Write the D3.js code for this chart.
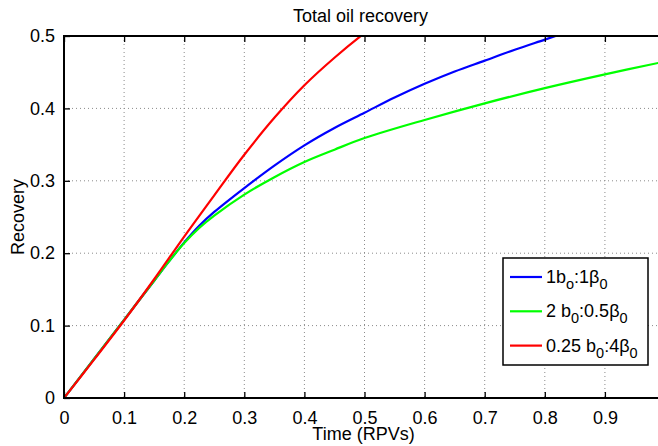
<!DOCTYPE html>
<html>
<head>
<meta charset="utf-8">
<script src="https://d3js.org/d3.v7.min.js"></script>
<style>
  body { margin: 0; background: #fff; }
  svg { display: block; font-family: "Liberation Sans", Arial, sans-serif; }
</style>
</head>
<body>
<svg width="658" height="446"></svg>
<script>
// values
const timeBlue  = [0, 0.05, 0.1, 0.15, 0.175, 0.2, 0.225, 0.25, 0.3, 0.35, 0.4, 0.45, 0.5, 0.55, 0.6, 0.65, 0.7, 0.75, 0.8, 0.85];
const recBlue   = [0, 0.054, 0.108, 0.162, 0.189, 0.215, 0.238, 0.257, 0.290, 0.321, 0.349, 0.373, 0.394, 0.415, 0.434, 0.451, 0.466, 0.481, 0.495, 0.509];
const timeGreen = [0, 0.05, 0.1, 0.15, 0.175, 0.2, 0.225, 0.25, 0.3, 0.35, 0.4, 0.45, 0.5, 0.6, 0.7, 0.8, 0.9, 0.99];
const recGreen  = [0, 0.054, 0.108, 0.162, 0.189, 0.214, 0.235, 0.252, 0.281, 0.305, 0.326, 0.343, 0.359, 0.384, 0.407, 0.428, 0.447, 0.463];
const timeRed   = [0, 0.05, 0.1, 0.15, 0.2, 0.25, 0.3, 0.35, 0.4, 0.45, 0.5, 0.52];
const recRed    = [0, 0.053, 0.107, 0.164, 0.223, 0.280, 0.336, 0.387, 0.432, 0.470, 0.504, 0.516];

const xTicks = [0, 0.1, 0.2, 0.3, 0.4, 0.5, 0.6, 0.7, 0.8, 0.9];
const yTicks = [0, 0.1, 0.2, 0.3, 0.4, 0.5];

const series = [
  { color: '#0000ff', t: timeBlue,  r: recBlue },
  { color: '#00ff00', t: timeGreen, r: recGreen },
  { color: '#ff0000', t: timeRed,   r: recRed }
];
const legendLabels = [
  [['1b', 0], ['o', 1], [':1β', 0], ['0', 1]],
  [['2 b', 0], ['0', 1], [':0.5β', 0], ['0', 1]],
  [['0.25 b', 0], ['0', 1], [':4β', 0], ['0', 1]]
];

let svg = d3.select('svg');
let margin = { top: 36, left: 64, right: -1, bottom: 48 };
let width = 658, height = 446;
let innerWidth = width - margin.left - margin.right;
let innerHeight = height - margin.top - margin.bottom;

let xScale = d3.scaleLinear().domain([0, 0.99]).range([0, innerWidth]);
let yScale = d3.scaleLinear().domain([0, 0.5]).range([innerHeight, 0]);

let g = svg.append('g').attr('transform', `translate(${margin.left},${margin.top})`);

svg.append('defs').append('clipPath').attr('id', 'clip')
   .append('rect').attr('width', innerWidth).attr('height', innerHeight);

// grid
let grid = g.append('g');
grid.selectAll('.vgrid').data(xTicks.slice(1)).join('line')
    .attr('x1', d => xScale(d)).attr('x2', d => xScale(d))
    .attr('y1', 0).attr('y2', innerHeight)
    .style('stroke', '#8a8a8a').style('stroke-dasharray', '1,3');
grid.selectAll('.hgrid').data(yTicks.slice(1, -1)).join('line')
    .attr('x1', 0).attr('x2', innerWidth)
    .attr('y1', d => yScale(d)).attr('y2', d => yScale(d))
    .style('stroke', '#8a8a8a').style('stroke-dasharray', '1,3');

// curves
let line = d3.line().curve(d3.curveCatmullRom.alpha(0.5));
g.append('g').attr('clip-path', 'url(#clip)')
  .selectAll('path').data(series).join('path')
  .attr('d', s => line(s.t.map((t, i) => [xScale(t), yScale(s.r[i])])))
  .style('fill', 'none').style('stroke', s => s.color).style('stroke-width', 2.2);

// axes
function styleAxis(sel) {
  sel.select('.domain').remove();
  sel.selectAll('line').style('stroke', '#000').style('stroke-width', 1.3);
  sel.selectAll('text').style('font-size', '18px').style('fill', '#000');
}
g.append('g').attr('transform', `translate(0,${innerHeight})`)
  .call(d3.axisBottom(xScale).tickValues(xTicks).tickSize(-6).tickPadding(13).tickFormat(d3.format('')))
  .call(styleAxis);
let topAxis = g.append('g')
  .call(d3.axisTop(xScale).tickValues(xTicks).tickSize(-6).tickFormat(''))
  .call(styleAxis);
topAxis.selectAll('text').remove();
g.append('g')
  .call(d3.axisLeft(yScale).tickValues(yTicks).tickSize(-6).tickPadding(9).tickFormat(d3.format('')))
  .call(styleAxis);

g.append('rect').attr('width', innerWidth).attr('height', innerHeight)
  .style('fill', 'none').style('stroke', '#000').style('stroke-width', 2);

// titles
svg.append('text').attr('x', margin.left + innerWidth / 2 - 1).attr('y', 22)
   .attr('text-anchor', 'middle').style('font-size', '18px').text('Total oil recovery');
svg.append('text').attr('x', margin.left + innerWidth / 2 + 2).attr('y', 440)
   .attr('text-anchor', 'middle').style('font-size', '18px').text('Time (RPVs)');
svg.append('text').attr('transform', `translate(24,${margin.top + innerHeight / 2}) rotate(-90)`)
   .attr('text-anchor', 'middle').style('font-size', '18px').text('Recovery');

// legend
let legend = svg.append('g').attr('transform', 'translate(503,258)');
legend.append('rect').attr('width', 145).attr('height', 107)
   .style('fill', '#fff').style('stroke', '#000').style('stroke-width', 1.5);
let rows = legend.selectAll('.row').data(series).join('g')
   .attr('transform', (d, i) => `translate(0,${19 + i * 34.3})`);
rows.append('line').attr('x1', 7).attr('x2', 39)
   .style('stroke', d => d.color).style('stroke-width', 2.2);
rows.append('text').attr('x', 43).attr('y', 6).style('font-size', '18px')
   .each(function(d, i) {
     let t = d3.select(this);
     legendLabels[i].forEach(([s, sub], k) => {
       t.append('tspan').text(s)
        .style('font-size', sub ? '14.5px' : '18px')
        .attr('dy', sub ? 6 : (k > 0 ? -6 : 0));
     });
   });
</script>
</body>
</html>
